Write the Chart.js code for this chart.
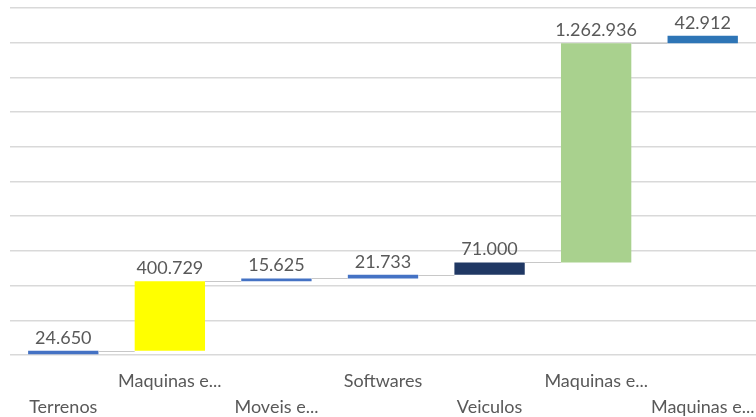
<!DOCTYPE html>
<html>
<head>
<meta charset="utf-8">
<script src="https://cdn.jsdelivr.net/npm/chart.js@4"></script>
<style>
  html, body { margin: 0; padding: 0; background: #fff; }
  #wrap { width: 756px; height: 417px; position: relative; }
</style>
</head>
<body>
<div id="wrap"><canvas id="chart"></canvas></div>
<script>
    'use strict';

    const categories = ['Terrenos', 'Maquinas e...', 'Moveis e...', 'Softwares', 'Veiculos', 'Maquinas e...', 'Maquinas e...'];
    const values = [24650, 400729, 15625, 21733, 71000, 1262936, 42912];
    const barColors = ['#4472C4', '#FFFF00', '#4472C4', '#4472C4', '#203864', '#A9D18E', '#2E75B6'];
    const yMax = 2000000;
    const yStep = 200000;

    // running totals -> floating bars
    const ranges = [];
    let running = 0;
    values.forEach(v => {
        ranges.push([running, running + v]);
        running += v;
    });

    function fmt(v) {
        return String(v).replace(/\B(?=(\d{3})+(?!\d))/g, '.');
    }

    const textColor = '#595959';
    const fontFamily = 'Lato, "Open Sans", sans-serif';

    // connectors and value labels
    const waterfallExtras = {
        id: 'waterfallExtras',
        afterDatasetsDraw(chart) {
            const ctx = chart.ctx;
            const meta = chart.getDatasetMeta(0);
            const y = chart.scales.y;
            ctx.save();
            ctx.strokeStyle = '#c8c8c8';
            ctx.lineWidth = 1;
            for (let i = 0; i < meta.data.length - 1; i++) {
                const a = meta.data[i];
                const b = meta.data[i + 1];
                const py = Math.round(y.getPixelForValue(ranges[i][1])) + 0.5;
                ctx.beginPath();
                ctx.moveTo(a.x + a.width / 2, py);
                ctx.lineTo(b.x - b.width / 2, py);
                ctx.stroke();
            }
            ctx.fillStyle = textColor;
            ctx.font = '18px ' + fontFamily;
            ctx.textAlign = 'center';
            ctx.textBaseline = 'bottom';
            meta.data.forEach((bar, i) => {
                const top = y.getPixelForValue(ranges[i][1]);
                ctx.fillText(fmt(values[i]), bar.x, top - 4);
            });
            ctx.restore();
        }
    };

    new Chart(document.getElementById('chart'), {
        type: 'bar',
        data: {
            labels: categories,
            datasets: [{
                data: ranges,
                backgroundColor: barColors,
                borderWidth: 0,
                barPercentage: 0.66,
                categoryPercentage: 1
            }]
        },
        options: {
            responsive: true,
            maintainAspectRatio: false,
            animation: false,
            layout: { padding: { left: 10, right: 0, top: 8, bottom: 0 } },
            scales: {
                x: {
                    grid: { display: false, drawTicks: false },
                    border: { display: false },
                    ticks: {
                        autoSkip: false,
                        maxRotation: 0,
                        padding: 14,
                        color: textColor,
                        font: { family: fontFamily, size: 18, lineHeight: 1.4 },
                        callback: (v, i) => i % 2 === 0 ? ['', categories[i]] : [categories[i]]
                    },
                    afterFit: s => {
                        s.height = 62;
                        s.paddingLeft = 0;
                        s.paddingRight = 0;
                    }
                },
                y: {
                    min: 0,
                    max: yMax,
                    ticks: { display: false, stepSize: yStep },
                    grid: { color: '#d9d9d9', lineWidth: 1.5, drawTicks: false },
                    border: { display: false },
                    afterFit: s => { s.width = 0; }
                }
            },
            plugins: {
                legend: { display: false },
                tooltip: { enabled: false }
            }
        },
        plugins: [waterfallExtras]
    });
</script>
</body>
</html>
